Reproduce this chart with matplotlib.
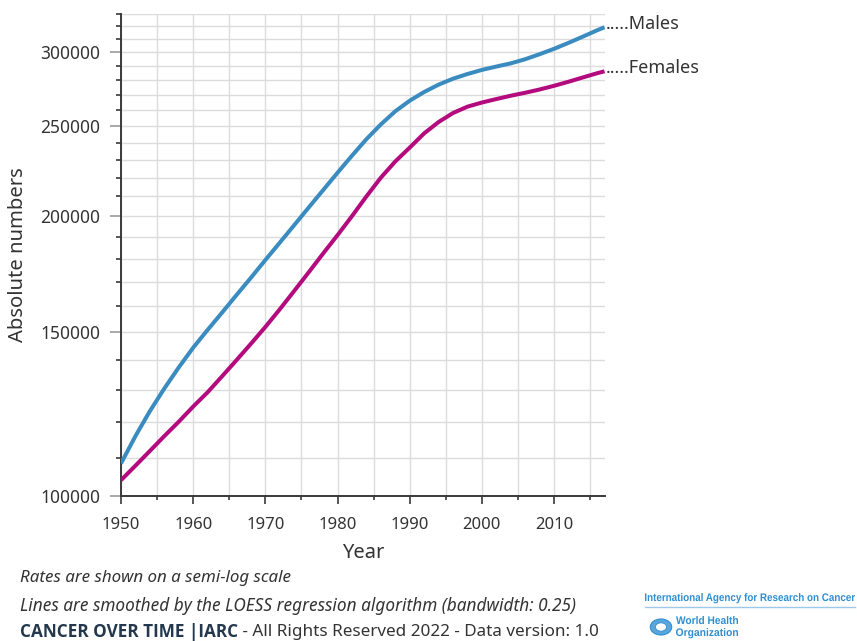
import matplotlib
matplotlib.use("Agg")
import matplotlib.pyplot as plt
from matplotlib import font_manager as fm
from matplotlib.ticker import FixedLocator, FuncFormatter
from matplotlib.patches import Circle, PathPatch
from matplotlib.textpath import TextPath
from matplotlib.transforms import Affine2D

plt.rcParams['font.family'] = ['Noto Sans', 'DejaVu Sans']


def family_with_bold(cands):
    # first family that really ships a bold face
    for c in cands:
        try:
            f = fm.findfont(fm.FontProperties(family=c, weight='bold'),
                            fallback_to_default=False)
        except ValueError:
            continue
        if 'bold' in f.lower():
            return c
    return 'DejaVu Sans'


BOLD = family_with_bold(['Noto Sans', 'Open Sans', 'Lato', 'Roboto', 'Liberation Sans'])

# smoothed absolute numbers
years = list(range(1950, 2017, 2)) + [2017]
males = [108400, 116000, 123400, 130500, 137500, 144400, 150900, 157500,
         164500, 171700, 179400, 187300, 195600, 204300, 213300, 222700,
         232300, 242000, 251000, 259300, 266200, 272000, 277000, 281100,
         284400, 287300, 289700, 292000, 295000, 298700, 302700, 307200,
         312000, 317000, 319300]
females = [104000, 107800, 111800, 116000, 120200, 124800, 129300, 134500,
           140000, 145800, 152000, 158800, 166200, 174000, 182300, 190800,
           200000, 210000, 220000, 229000, 237000, 245500, 252500, 258200,
           262300, 265000, 267300, 269500, 271500, 273700, 276200, 279000,
           282000, 285000, 286300]
series_names = ['Males', 'Females']
series_colors = ['#3a8bc0', '#b30b7e']

y_major = [100000, 150000, 200000, 250000, 300000]
y_minor = list(range(100000, 330001, 10000))
x_major = list(range(1950, 2011, 10))
x_minor = list(range(1955, 2016, 10))

TXT = '#333333'

fig = plt.figure(figsize=(8.57, 6.41), dpi=100)
ax = fig.add_axes([0.1412, 0.2262, 0.5642, 0.752])

for vals, name, col in zip([males, females], series_names, series_colors):
    ax.plot(years, vals, color=col, lw=2.9, solid_capstyle='butt', zorder=3)
    ax.annotate('.....' + name, xy=(years[-1], vals[-1]), xytext=(1, -1),
                textcoords='offset points', va='baseline', ha='left',
                fontsize=13, color=TXT, annotation_clip=False)

ax.set_yscale('log')
ax.set_xlim(1950, 2017)
ax.set_ylim(100000, 330000)

ax.yaxis.set_major_locator(FixedLocator(y_major))
ax.yaxis.set_minor_locator(FixedLocator(y_minor))
ax.yaxis.set_major_formatter(FuncFormatter(lambda v, p: f"{int(round(v))}"))
ax.yaxis.set_minor_formatter(FuncFormatter(lambda v, p: ""))
ax.xaxis.set_major_locator(FixedLocator(x_major))
ax.xaxis.set_minor_locator(FixedLocator(x_minor))

ax.grid(True, which='both', color='#dcdcdc', lw=1.0, zorder=0)
ax.set_axisbelow(True)

for s in ['top', 'right']:
    ax.spines[s].set_visible(False)
for s in ['left', 'bottom']:
    ax.spines[s].set_color('#3a3a3a')
    ax.spines[s].set_linewidth(1.4)

ax.tick_params(axis='y', which='major', length=8, width=1.2, color='#999999',
               labelsize=12.5, labelcolor=TXT, pad=7)
ax.tick_params(axis='y', which='minor', length=3.5, width=1.2, color='#3a3a3a')
ax.tick_params(axis='x', which='major', length=6, width=1.2, color='#3a3a3a',
               labelsize=12, labelcolor=TXT, pad=9)
ax.tick_params(axis='x', which='minor', length=3, width=1.2, color='#3a3a3a')

ax.set_xlabel('Year', fontsize=14.5, color=TXT, labelpad=7)
ax.set_ylabel('Absolute numbers', fontsize=14.5, color=TXT, labelpad=9)

# footer notes
fig.text(20 / 857, 1 - 578 / 641, 'Rates are shown on a semi-log scale',
         style='italic', fontsize=12.2, color=TXT, va='center')
fig.text(20 / 857, 1 - 606 / 641,
         'Lines are smoothed by the LOESS regression algorithm (bandwidth: 0.25)',
         style='italic', fontsize=12.4, color=TXT, va='center')
t = fig.text(20 / 857, 1 - 632 / 641, 'CANCER OVER TIME |IARC', family=BOLD,
             fontweight='bold', fontsize=12.3, color='#23384d', va='center')
fig.canvas.draw()
bb = t.get_window_extent()
fig.text(bb.x1 / fig.bbox.width, 1 - 632 / 641,
         ' - All Rights Reserved 2022 - Data version: 1.0',
         fontsize=12.3, color=TXT, va='center')

# agency logo block, condensed lettering drawn as paths in pixel space
blue = '#2e8fd4'
H = fig.bbox.height
logo_font = fm.FontProperties(family=['Liberation Sans', 'DejaVu Sans'], weight='bold')


def squeezed_text(s, x0, y_base, width, size):
    tp = TextPath((0, 0), s, size=size, prop=logo_font)
    ext = tp.get_extents()
    sx = width / ext.width
    tr = Affine2D().translate(-ext.x0, 0).scale(sx, 1).translate(x0, H - y_base)
    fig.add_artist(PathPatch(tp, transform=tr, facecolor=blue, edgecolor='none'))


squeezed_text('International Agency for Research on Cancer', 645, 601, 210, 11)
fig.add_artist(plt.Line2D([645 / 857, 855 / 857], [1 - 607 / 641] * 2,
                          color='#9cc8ea', lw=1.0))
fig.add_artist(Circle((661 / 857, 1 - 627 / 641), 0.0125, transform=fig.transFigure,
                      facecolor='#5aa5dc', edgecolor='#2e8fd4', lw=0.8))
fig.add_artist(Circle((661 / 857, 1 - 627 / 641), 0.0065, transform=fig.transFigure,
                      facecolor='white', edgecolor='#2e8fd4', lw=0.6))
squeezed_text('World Health', 676, 624, 62, 11)
squeezed_text('Organization', 676, 636, 62, 11)

fig.savefig('out.png', dpi=100)
